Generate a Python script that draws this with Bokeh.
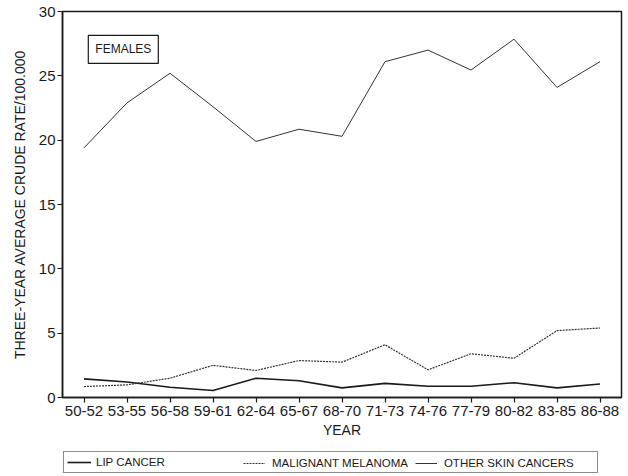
from bokeh.plotting import figure
from bokeh.models import FactorRange, Range1d, FixedTicker, Legend, LegendItem, Label
from bokeh.layouts import column
from bokeh.embed import file_html
from bokeh.resources import INLINE

periods = ["50-52", "53-55", "56-58", "59-61", "62-64", "65-67", "68-70",
           "71-73", "74-76", "77-79", "80-82", "83-85", "86-88"]
lip_cancer = [1.45, 1.2, 0.8, 0.55, 1.5, 1.3, 0.75, 1.1, 0.88, 0.88, 1.15, 0.75, 1.05]
melanoma = [0.85, 0.98, 1.5, 2.5, 2.1, 2.87, 2.75, 4.1, 2.15, 3.4, 3.05, 5.2, 5.4]
other_skin = [19.4, 22.9, 25.2, 22.6, 19.9, 20.85, 20.3, 26.1, 27.0, 25.45, 27.85, 24.1, 26.1]
y_ticks = [0, 5, 10, 15, 20, 25, 30]
series_names = ["LIP CANCER", "MALIGNANT MELANOMA", "OTHER SKIN CANCERS"]

FONT = "Liberation Sans"
INK = "#1a1a1a"
LIP_STYLE = dict(line_color=INK, line_width=1.6)
MEL_STYLE = dict(line_color="#333333", line_width=1.2, line_dash="2 1")
OTH_STYLE = dict(line_color="#333333", line_width=1.0)

p = figure(width=628, height=445, output_backend="svg", toolbar_location=None,
           x_range=FactorRange(factors=periods, range_padding=0),
           y_range=Range1d(0, 30),
           min_border_left=62, min_border_right=7, min_border_top=11, min_border_bottom=48)

p.grid.visible = False
p.outline_line_color = INK
p.outline_line_width = 1.5
p.background_fill_color = "white"
p.border_fill_color = "white"

for ax in (p.xaxis[0], p.yaxis[0]):
    ax.axis_line_color = INK
    ax.axis_line_width = 1.5
    ax.major_tick_line_color = INK
    ax.major_tick_line_width = 1.2
    ax.major_tick_out = 5
    ax.major_tick_in = 0
    ax.minor_tick_line_color = None
    ax.major_label_text_font = FONT
    ax.major_label_text_font_size = "15px"
    ax.major_label_text_color = INK
    ax.axis_label_text_font = FONT
    ax.axis_label_text_font_size = "14px"
    ax.axis_label_text_font_style = "normal"
    ax.axis_label_text_color = INK

p.yaxis.ticker = FixedTicker(ticks=y_ticks)
p.yaxis.axis_label = "THREE-YEAR AVERAGE CRUDE RATE/100.000"
p.yaxis.major_label_standoff = 2
p.yaxis.axis_label_standoff = 8
p.xaxis.axis_label = "YEAR"
p.xaxis.major_label_standoff = 3
p.xaxis.axis_label_standoff = 3

p.line(periods, lip_cancer, **LIP_STYLE)
p.line(periods, melanoma, **MEL_STYLE)
p.line(periods, other_skin, **OTH_STYLE)

label = Label(x=0.6, y=28.14, text="FEMALES", text_font=FONT, text_font_size="12px",
              text_color=INK, text_align="left", text_baseline="top",
              border_line_color=INK, border_line_width=1.2,
              background_fill_color="white", padding=7)
p.add_layout(label)

# legend strip below the chart (its series sit outside its visible y range)
lg = figure(width=628, height=31, output_backend="svg", toolbar_location=None,
            x_range=FactorRange(factors=periods, range_padding=0), y_range=Range1d(100, 101),
            x_axis_location=None, y_axis_location=None,
            min_border=0, min_border_left=0, min_border_right=0,
            min_border_top=0, min_border_bottom=0)
lg.grid.visible = False
lg.outline_line_color = None
lg.background_fill_color = "white"
lg.border_fill_color = "white"

g_lip = lg.line(periods, lip_cancer, **LIP_STYLE)
g_mel = lg.line(periods, melanoma, **MEL_STYLE)
g_oth = lg.line(periods, other_skin, **OTH_STYLE)

leg_a = Legend(items=[LegendItem(label=series_names[0], renderers=[g_lip])],
               location=(1, 3), orientation="horizontal",
               padding=3, spacing=0, glyph_width=24, glyph_height=14,
               label_height=14, label_width=498, label_standoff=5,
               label_text_font=FONT, label_text_font_size="11.5px", label_text_color=INK,
               border_line_color=INK, border_line_width=1.5,
               background_fill_color="white", background_fill_alpha=1.0)
leg_b = Legend(items=[LegendItem(label=series_names[1], renderers=[g_mel]),
                      LegendItem(label=series_names[2], renderers=[g_oth])],
               location=(178, 3), orientation="horizontal",
               padding=3, spacing=7, glyph_width=22, glyph_height=14,
               label_height=14, label_width=10, label_standoff=7,
               label_text_font=FONT, label_text_font_size="11.5px", label_text_color=INK,
               border_line_alpha=0, background_fill_alpha=0)
lg.add_layout(leg_a)
lg.add_layout(leg_b)

open("out.html", "w").write(file_html(column(p, lg, spacing=0), INLINE))
